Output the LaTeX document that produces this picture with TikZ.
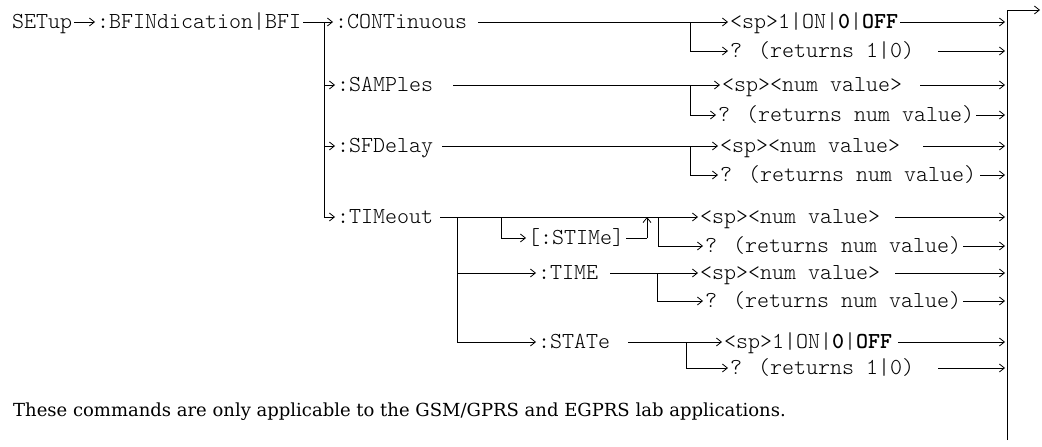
\documentclass[tikz,border=0pt]{standalone}
\usepackage{fontspec}
\usetikzlibrary{arrows.meta}
\newfontfamily\monof{Latin Modern Mono Light}
\newfontfamily\noteserif{DejaVu Serif}
\begin{document}
\begin{tikzpicture}[x=1pt,y=-1pt,
  mono/.style={font=\monof\fontsize{22.86}{26}\selectfont, inner xsep=2pt, inner ysep=0pt, text height=13pt, text depth=0pt, anchor=west},
  ln/.style={line width=0.8pt},
  arr/.style={ln,-{Straight Barb[length=5pt,width=8pt]}},
  note/.style={font=\noteserif\fontsize{18}{21}\selectfont, inner sep=0pt, anchor=west}]
\useasboundingbox (0,0) rectangle (1042,447);

% ---------- top row ----------
\node[mono] (setup) at (10,22) {SETup};
\node[mono] (bfi) at (95,22) {:BFINdication|BFI};
\coordinate (j0) at (324,22);
\coordinate (jT) at (324,217);
\draw[arr] (setup.east) -- (bfi.west);
\draw[ln] (bfi.east) -- (j0) -- (jT);

% ---------- CONTinuous ----------
\node[mono] (cont) at (333,22) {:CONTinuous};
\coordinate (c1s) at (478,22);
\coordinate (b1) at (690,22);
\coordinate (b1d) at (690,51);
\node[mono] (v1) at (728,22) {<sp>1|ON|\textbf{0}|\textbf{OFF}};
\node[mono] (q1) at (728,51) {? (returns 1|0)};
\coordinate (q1s) at (938,51);
\coordinate (e1) at (1005,22);
\coordinate (e2) at (1005,51);
\draw[arr] (j0) -- (cont.west);
\draw[ln] (c1s) -- (b1) -- (b1d);
\draw[arr] (b1) -- (v1.west);
\draw[arr] (b1d) -- (q1.west);
\draw[arr] (v1.east) -- (e1);
\draw[arr] (q1s) -- (e2);

% ---------- SAMPles ----------
\coordinate (j2) at (324,85);
\node[mono] (samp) at (335,85) {:SAMPles};
\coordinate (s2) at (453,85);
\coordinate (b2) at (690,85);
\coordinate (b2d) at (690,115);
\node[mono] (v2) at (720,85) {<sp><num value>};
\node[mono] (q2) at (716,115) {? (returns num value)};
\coordinate (v2s) at (920,85);
\coordinate (e3) at (1005,85);
\coordinate (e4) at (1005,115);
\draw[arr] (j2) -- (samp.west);
\draw[ln] (s2) -- (b2) -- (b2d);
\draw[arr] (b2) -- (v2.west);
\draw[arr] (b2d) -- (q2.west);
\draw[arr] (v2s) -- (e3);
\draw[arr] (q2.east) -- (e4);

% ---------- SFDelay ----------
\coordinate (j3) at (324,146);
\node[mono] (sfd) at (335,146) {:SFDelay};
\coordinate (s3) at (442,146);
\coordinate (b3) at (690,146);
\coordinate (b3d) at (690,175);
\node[mono] (v3) at (718,146) {<sp><num value>};
\node[mono] (q3) at (718,175) {? (returns num value)};
\coordinate (v3s) at (923,146);
\coordinate (q3s) at (980,175);
\coordinate (e5) at (1005,146);
\coordinate (e6) at (1005,175);
\draw[arr] (j3) -- (sfd.west);
\draw[ln] (s3) -- (b3) -- (b3d);
\draw[arr] (b3) -- (v3.west);
\draw[arr] (b3d) -- (q3.west);
\draw[arr] (v3s) -- (e5);
\draw[arr] (q3s) -- (e6);

% ---------- TIMeout ----------
\node[mono] (tim) at (335,217) {:TIMeout};
\coordinate (s4) at (440,217);
\coordinate (t1) at (457,217);
\coordinate (t1m) at (457,273);
\coordinate (t1d) at (457,342);
\coordinate (t2) at (501,217);
\coordinate (t2d) at (501,238);
\coordinate (si1) at (647,238);
\coordinate (si2) at (647,217);
\coordinate (t3) at (658,217);
\coordinate (t3d) at (658,246);
\node[mono] (stime) at (526,238) {[:STIMe]};
\node[mono] (v4) at (698,217) {<sp><num value>};
\node[mono] (q4) at (703,246) {? (returns num value)};
\coordinate (v4s) at (895,217);
\coordinate (e7) at (1005,217);
\coordinate (e8) at (1005,246);
\draw[arr] (jT) -- (tim.west);
\draw[arr] (s4) -- (v4.west);
\draw[ln] (t1) -- (t1d);
\draw[ln] (t2) -- (t2d);
\draw[arr] (t2d) -- (stime.west);
\draw[ln] (stime.east) -- (si1);
\draw[arr] (si1) -- (si2);
\draw[ln] (t3) -- (t3d);
\draw[arr] (t3d) -- (q4.west);
\draw[arr] (v4s) -- (e7);
\draw[arr] (q4.east) -- (e8);

% ---------- TIME ----------
\node[mono] (time) at (536,273) {:TIME};
\coordinate (tm1s) at (610,273);
\coordinate (b5) at (657,273);
\coordinate (b5d) at (657,301);
\node[mono] (v5) at (698,273) {<sp><num value>};
\node[mono] (q5) at (703,301) {? (returns num value)};
\coordinate (v5s) at (895,273);
\coordinate (e9) at (1005,273);
\coordinate (e10) at (1005,301);
\draw[arr] (t1m) -- (time.west);
\draw[arr] (tm1s) -- (v5.west);
\draw[ln] (b5) -- (b5d);
\draw[arr] (b5d) -- (q5.west);
\draw[arr] (v5s) -- (e9);
\draw[arr] (q5.east) -- (e10);

% ---------- STATe ----------
\node[mono] (state) at (536,342) {:STATe};
\coordinate (st1s) at (628,342);
\coordinate (b6) at (686,342);
\coordinate (b6d) at (686,368);
\node[mono] (v6) at (722,342) {<sp>1|ON|\textbf{0}|\textbf{OFF}};
\node[mono] (q6) at (728,368) {? (returns 1|0)};
\coordinate (v6s) at (898,342);
\coordinate (q6s) at (938,368);
\coordinate (e11) at (1005,342);
\coordinate (e12) at (1005,368);
\draw[arr] (t1d) -- (state.west);
\draw[arr] (st1s) -- (v6.west);
\draw[ln] (b6) -- (b6d);
\draw[arr] (b6d) -- (q6.west);
\draw[arr] (v6s) -- (e11);
\draw[arr] (q6s) -- (e12);

% ---------- exit bar ----------
\coordinate (bt) at (1007,10);
\coordinate (bb) at (1007,440);
\coordinate (out) at (1040,10);
\draw[ln] (bb) -- (bt);
\draw[arr] (bt) -- (out);

% ---------- footnote ----------
\node[note] (fn) at (13,412) {These commands are only applicable to the GSM/GPRS and EGPRS lab applications.};
\end{tikzpicture}
\end{document}
